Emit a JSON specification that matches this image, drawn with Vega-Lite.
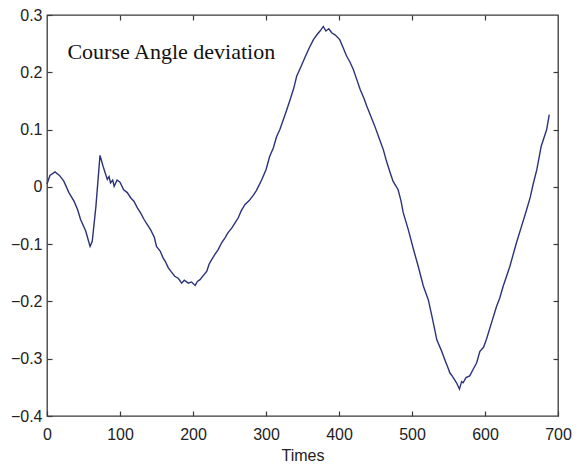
{
  "$schema": "https://vega.github.io/schema/vega-lite/v6.json",
  "width": 511,
  "height": 401,
  "autosize": {"type": "none"},
  "padding": {"left": 47, "top": 15, "right": 24, "bottom": 52},
  "background": "white",
  "config": {
    "view": {"stroke": "#3a3a3a", "strokeWidth": 1.3},
    "axis": {
      "grid": false,
      "domain": false,
      "labelFlush": false,
      "labelOverlap": false,
      "tickColor": "#3a3a3a",
      "tickWidth": 1.2,
      "tickSize": -5,
      "labelFont": "Liberation Sans",
      "labelFontSize": 16,
      "labelColor": "#222",
      "titleFont": "Liberation Sans",
      "titleFontSize": 16,
      "titleFontWeight": "normal",
      "titleColor": "#222"
    }
  },
  "datasets": {
    "series": [
      {"t": 0, "v": 0.005}, {"t": 4, "v": 0.02}, {"t": 11, "v": 0.026}, {"t": 17, "v": 0.02},
      {"t": 23, "v": 0.01}, {"t": 30, "v": -0.01}, {"t": 37, "v": -0.025}, {"t": 42, "v": -0.04},
      {"t": 46, "v": -0.057}, {"t": 53, "v": -0.077}, {"t": 57, "v": -0.095}, {"t": 59, "v": -0.104},
      {"t": 62, "v": -0.095}, {"t": 67, "v": -0.034}, {"t": 72.6, "v": 0.055}, {"t": 77, "v": 0.035},
      {"t": 82.6, "v": 0.013}, {"t": 85, "v": 0.018}, {"t": 87, "v": 0.007}, {"t": 90, "v": 0.012},
      {"t": 92, "v": 0.001}, {"t": 96, "v": 0.012}, {"t": 100, "v": 0.008}, {"t": 105, "v": -0.005},
      {"t": 110, "v": -0.01}, {"t": 114.6, "v": -0.019}, {"t": 119, "v": -0.025}, {"t": 124, "v": -0.037},
      {"t": 128, "v": -0.045}, {"t": 133, "v": -0.057}, {"t": 137, "v": -0.065}, {"t": 142, "v": -0.075},
      {"t": 147, "v": -0.088}, {"t": 150, "v": -0.104}, {"t": 155, "v": -0.112}, {"t": 159, "v": -0.124},
      {"t": 162, "v": -0.13}, {"t": 166, "v": -0.141}, {"t": 170, "v": -0.148}, {"t": 175, "v": -0.156},
      {"t": 180, "v": -0.16}, {"t": 184.5, "v": -0.168}, {"t": 188, "v": -0.163}, {"t": 193.6, "v": -0.168},
      {"t": 198, "v": -0.166}, {"t": 203, "v": -0.172}, {"t": 206, "v": -0.165}, {"t": 209.6, "v": -0.162},
      {"t": 214, "v": -0.155}, {"t": 219, "v": -0.147}, {"t": 222, "v": -0.135}, {"t": 225.6, "v": -0.127},
      {"t": 230, "v": -0.118}, {"t": 234.7, "v": -0.109}, {"t": 239, "v": -0.098}, {"t": 243.8, "v": -0.089},
      {"t": 248, "v": -0.08}, {"t": 253, "v": -0.072}, {"t": 258, "v": -0.062}, {"t": 262, "v": -0.054},
      {"t": 266, "v": -0.042}, {"t": 271, "v": -0.031}, {"t": 277, "v": -0.024}, {"t": 283, "v": -0.014},
      {"t": 287, "v": -0.006}, {"t": 294, "v": 0.012}, {"t": 300, "v": 0.03}, {"t": 305, "v": 0.053},
      {"t": 310, "v": 0.068}, {"t": 314.6, "v": 0.088}, {"t": 319, "v": 0.1}, {"t": 323.7, "v": 0.117},
      {"t": 328, "v": 0.133}, {"t": 333, "v": 0.152}, {"t": 338, "v": 0.172}, {"t": 342, "v": 0.193},
      {"t": 348, "v": 0.21}, {"t": 353, "v": 0.225}, {"t": 359, "v": 0.242}, {"t": 365, "v": 0.257},
      {"t": 370, "v": 0.266}, {"t": 374, "v": 0.272}, {"t": 378.5, "v": 0.28}, {"t": 382, "v": 0.272},
      {"t": 386, "v": 0.276}, {"t": 390, "v": 0.269}, {"t": 395, "v": 0.265}, {"t": 401, "v": 0.257},
      {"t": 405, "v": 0.245}, {"t": 410.5, "v": 0.228}, {"t": 415, "v": 0.218}, {"t": 419.6, "v": 0.205},
      {"t": 425, "v": 0.185}, {"t": 429, "v": 0.17}, {"t": 434, "v": 0.155}, {"t": 438, "v": 0.141},
      {"t": 444, "v": 0.122}, {"t": 449, "v": 0.106}, {"t": 455, "v": 0.085}, {"t": 460.7, "v": 0.065},
      {"t": 465, "v": 0.045}, {"t": 470, "v": 0.025}, {"t": 474, "v": 0.01}, {"t": 481, "v": -0.005},
      {"t": 485, "v": -0.025}, {"t": 488, "v": -0.045}, {"t": 495, "v": -0.075}, {"t": 502, "v": -0.109},
      {"t": 508.6, "v": -0.139}, {"t": 515.5, "v": -0.173}, {"t": 522.3, "v": -0.197}, {"t": 528, "v": -0.23},
      {"t": 534, "v": -0.267}, {"t": 540, "v": -0.285}, {"t": 545, "v": -0.302}, {"t": 549, "v": -0.315},
      {"t": 552, "v": -0.325}, {"t": 555, "v": -0.33}, {"t": 558, "v": -0.336}, {"t": 561, "v": -0.342},
      {"t": 565, "v": -0.353}, {"t": 568, "v": -0.34}, {"t": 570, "v": -0.342}, {"t": 574, "v": -0.333},
      {"t": 579, "v": -0.33}, {"t": 584, "v": -0.318}, {"t": 588.6, "v": -0.307}, {"t": 593, "v": -0.287},
      {"t": 598, "v": -0.28}, {"t": 602, "v": -0.266}, {"t": 609, "v": -0.237}, {"t": 616, "v": -0.208},
      {"t": 620, "v": -0.195}, {"t": 625, "v": -0.173}, {"t": 634, "v": -0.139}, {"t": 643, "v": -0.098},
      {"t": 650, "v": -0.069}, {"t": 657, "v": -0.04}, {"t": 662, "v": -0.018}, {"t": 666, "v": 0.005},
      {"t": 671, "v": 0.03}, {"t": 677, "v": 0.071}, {"t": 684.5, "v": 0.1}, {"t": 688, "v": 0.126}
    ],
    "note": [{"t": 28, "v": 0.235, "label": "Course Angle deviation"}]
  },
  "layer": [
    {
      "data": {"name": "series"},
      "mark": {"type": "line", "color": "#2c3278", "strokeWidth": 1.4},
      "encoding": {
        "x": {"field": "t", "type": "quantitative", "scale": {"domain": [0, 700], "nice": false},
              "axis": {"orient": "bottom", "values": [0, 100, 200, 300, 400, 500, 600, 700], "labelPadding": 15, "title": "Times", "titlePadding": 5}},
        "y": {"field": "v", "type": "quantitative", "scale": {"domain": [-0.4, 0.3], "nice": false, "zero": false},
              "axis": {"orient": "left", "values": [-0.4, -0.3, -0.2, -0.1, 0, 0.1, 0.2, 0.3], "labelPadding": 10, "title": null, "format": "~g"}}
      }
    },
    {
      "data": {"name": "series"},
      "mark": {"type": "line", "opacity": 0},
      "encoding": {
        "x": {"field": "t", "type": "quantitative", "scale": {"domain": [0, 700], "nice": false},
              "axis": {"orient": "top", "values": [100, 200, 300, 400, 500, 600], "labels": false, "title": null}},
        "y": {"field": "v", "type": "quantitative", "scale": {"domain": [-0.4, 0.3], "nice": false, "zero": false},
              "axis": {"orient": "right", "values": [-0.3, -0.2, -0.1, 0, 0.1, 0.2], "labels": false, "title": null}}
      }
    },
    {
      "data": {"name": "note"},
      "mark": {"type": "text", "align": "left", "baseline": "middle", "font": "Liberation Serif", "fontSize": 22, "color": "#111"},
      "encoding": {
        "x": {"field": "t", "type": "quantitative", "axis": null},
        "y": {"field": "v", "type": "quantitative", "axis": null},
        "text": {"field": "label"}
      }
    }
  ],
  "resolve": {"axis": {"x": "independent", "y": "independent"}}
}
